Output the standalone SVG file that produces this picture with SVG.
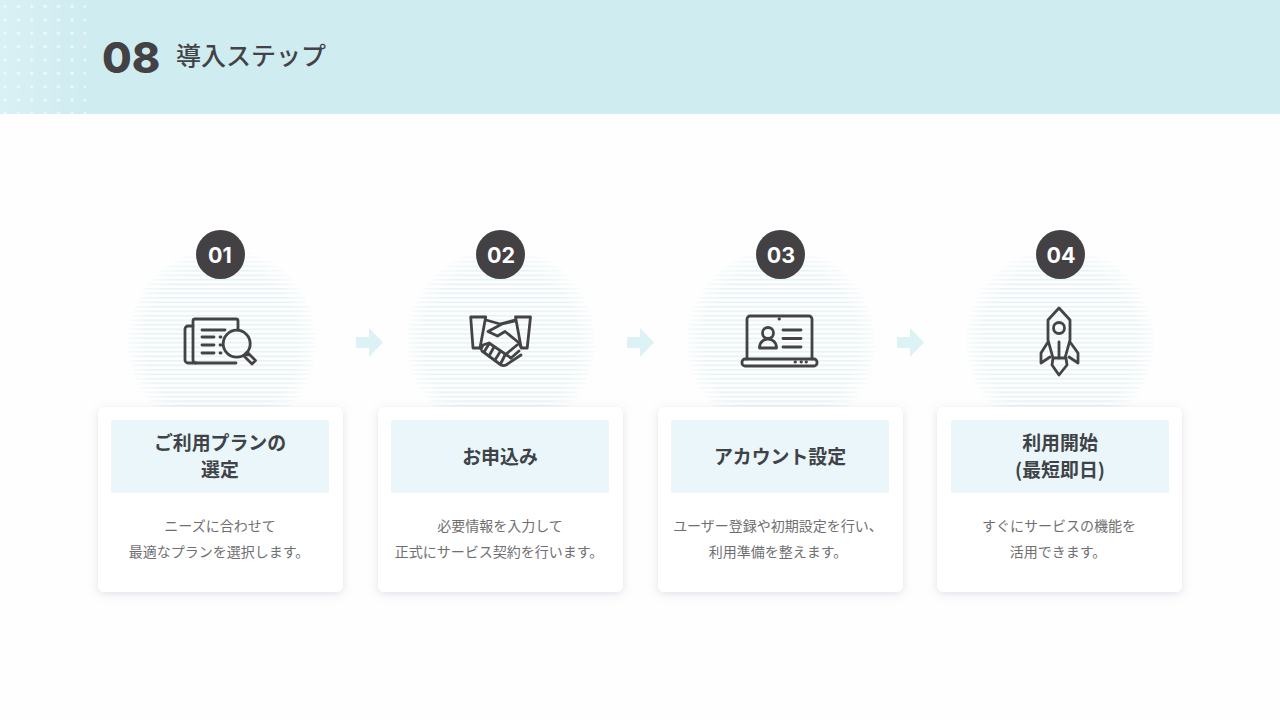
<svg xmlns="http://www.w3.org/2000/svg" width="1280" height="720" viewBox="0 0 1280 720">
<style>
.jp{font-family:"Noto Sans CJK JP","Noto Sans",sans-serif}
.ttl{font-size:18.900px;font-weight:700;fill:#3f4347;text-anchor:middle}
.dsc{font-size:14px;fill:#6f6f72;text-anchor:middle}
.num{font-family:"Inter","Noto Sans",sans-serif;font-size:21.500px;font-weight:700;fill:#fff;text-anchor:middle}
.ball{fill:#434144}
.card{fill:#fff;filter:url(#sh)}
.band{fill:#eaf6f9}
.disc{fill:url(#stripe);mask:url(#soft)}
.ic{fill:none;stroke:#444346;stroke-width:2.800;stroke-linecap:round;stroke-linejoin:round}
.arr{fill:#dcf2f5}
</style>
<defs>
<pattern id="stripe" width="6" height="4.500" patternUnits="userSpaceOnUse"><rect width="6" height="1.500" fill="#e3f2f5"/></pattern>
<pattern id="dots" x="3" y="5" width="13.400" height="13.400" patternUnits="userSpaceOnUse"><circle cx="2" cy="1.500" r="1.600" fill="#eef9fb"/></pattern>
<radialGradient id="softg"><stop offset=".8" stop-color="#fff"/><stop offset="1" stop-color="#fff" stop-opacity=".25"/></radialGradient>
<mask id="soft" maskContentUnits="objectBoundingBox"><rect width="1" height="1" fill="url(#softg)"/></mask>
<filter id="sh" x="-15%" y="-15%" width="130%" height="130%"><feDropShadow dx="0" dy="2" stdDeviation="4" flood-color="#8f86a8" flood-opacity=".25"/></filter>
<linearGradient id="fade" x1="0" x2="1" y1="0" y2="0"><stop offset="0" stop-color="#fff" stop-opacity=".22"/><stop offset="1" stop-color="#fff" stop-opacity="0"/></linearGradient>
</defs>
<rect width="1280" height="720" fill="#fefefe"/>
<g id="header">
<rect width="1280" height="114" fill="#cfecf1"/>
<rect width="90" height="114" fill="url(#fade)"/>
<rect width="86" height="114" fill="url(#dots)"/>
<text x="102" y="73" font-family="Inter,sans-serif" font-size="43" font-weight="800" fill="#434144">08</text>
<text x="176" y="65" class="jp" font-size="25" font-weight="500" fill="#434347">導入ステップ</text>
</g>
<g id="connectors">
<path class="arr" d="M356 337h13v-9l14 14.500l-14 14.500v-9h-13z"/>
<path class="arr" d="M627 337h13v-9l14 14.500l-14 14.500v-9h-13z"/>
<path class="arr" d="M897 337h13v-9l14 14.500l-14 14.500v-9h-13z"/>
</g>
<g id="step1">
<circle class="disc" cx="222" cy="342" r="94"/>
<g class="ic">
<path d="M193 326h-5a3 3 0 0 0-3 3v31a3 3 0 0 0 3 3h48"/>
<path d="M196 363a3 3 0 0 1-3-3v-39a2 2 0 0 1 2-2h41a2 2 0 0 1 2 2v9"/>
<path d="M202 330h23M202 337h12M202 345h12M202 353h12M220 337h1M220 345h1M220 353h1"/>
<circle cx="236.700" cy="343.700" r="13.500"/>
<path d="M246 353l2 2M248 353l7.500 7.500-3.500 3.500-7.500-7.500z"/>
</g>
<circle class="ball" cx="220.500" cy="254.500" r="24.500"/>
<text class="num" x="220" y="262.500">01</text>
<rect class="card" x="98" y="407" width="245" height="185" rx="6"/>
<rect class="band" x="111" y="420" width="218" height="73" rx="2"/>
<text class="jp ttl" x="220" y="450">ご利用プランの</text>
<text class="jp ttl" x="220" y="477">選定</text>
<text class="jp dsc" x="220" y="531">ニーズに合わせて</text>
<text class="jp dsc" x="219" y="557">最適なプランを選択します。</text>
</g>
<g id="step2">
<circle class="disc" cx="501" cy="342" r="94"/>
<g class="ic">
<path d="M470.700 317h15l-5.700 31h-7z"/>
<path d="M530.500 317h-15l5.700 31h6z"/>
<path d="M486 320l14 4 15-4"/>
<path d="M515 321l-13 3-14 7.500 9.500 4.500 7.500-4.500 13 10.500 3 5"/>
<path d="M481 349l2-4 6-2 22 15M482 351l19 14c2 1 3 1 5 0l15-10"/>
<path d="M489 344l-5 8M494 347l-5 9M500 352l-5 8M505 355l-4 8"/>
<path d="M505 355l12-10M511 358l8-7"/>
</g>
<circle class="ball" cx="500.500" cy="254.500" r="24.500"/>
<text class="num" x="501" y="262.500">02</text>
<rect class="card" x="378" y="407" width="245" height="185" rx="6"/>
<rect class="band" x="391" y="420" width="218" height="73" rx="2"/>
<text class="jp ttl" x="500" y="464">お申込み</text>
<text class="jp dsc" x="500" y="531">必要情報を入力して</text>
<text class="jp dsc" x="499" y="557">正式にサービス契約を行います。</text>
</g>
<g id="step3">
<circle class="disc" cx="781" cy="342" r="94"/>
<g class="ic">
<path d="M747 359v-40a3 3 0 0 1 3-3h59a3 3 0 0 1 3 3v40"/>
<rect x="742" y="359" width="75" height="7" rx="3"/>
<circle cx="768" cy="333" r="5.500"/>
<path d="M759.500 348c0-12 17-12 17 0z"/>
<path d="M783 330h18M783 338.500h18M783 347h18"/>
<path d="M779 319h.5M795 362h.5M801 362h.5M806 362h.5"/>
</g>
<circle class="ball" cx="780.500" cy="254.500" r="24.500"/>
<text class="num" x="781" y="262.500">03</text>
<rect class="card" x="658" y="407" width="245" height="185" rx="6"/>
<rect class="band" x="671" y="420" width="218" height="73" rx="2"/>
<text class="jp ttl" x="780" y="464">アカウント設定</text>
<text class="jp dsc" x="778" y="531">ユーザー登録や初期設定を行い、</text>
<text class="jp dsc" x="778" y="557">利用準備を整えます。</text>
</g>
<g id="step4">
<circle class="disc" cx="1060" cy="342" r="94"/>
<g class="ic">
<path d="M1059 308l11 12v20l-5 18h-12l-5-18v-20z"/>
<circle cx="1059" cy="328" r="5.500"/>
<path d="M1059 342v16"/>
<path d="M1048 342l-7 11v10l9-6M1070 342l8 11v10l-9-6"/>
<path d="M1053 358l-1 7 7 10 8-10-1-7"/>
</g>
<circle class="ball" cx="1060.500" cy="254.500" r="24.500"/>
<text class="num" x="1061" y="262.500">04</text>
<rect class="card" x="937" y="407" width="245" height="185" rx="6"/>
<rect class="band" x="951" y="420" width="218" height="73" rx="2"/>
<text class="jp ttl" x="1060" y="450">利用開始</text>
<text class="jp ttl" x="1060" y="477">(最短即日)</text>
<text class="jp dsc" x="1059" y="531">すぐにサービスの機能を</text>
<text class="jp dsc" x="1058" y="557">活用できます。</text>
</g>
</svg>
